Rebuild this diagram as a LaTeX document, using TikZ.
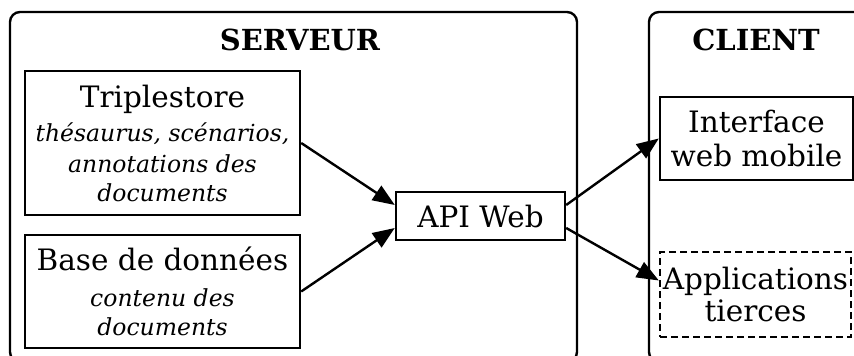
\documentclass[tikz,border=0pt]{standalone}
\usepackage{fontspec}
\setmainfont{DejaVu Serif}
\usepackage{tikz}
\usetikzlibrary{arrows.meta,positioning,calc}
\newcommand{\subtxt}[1]{{\fontsize{23.5}{30}\selectfont\itshape #1}}

\begin{document}
\begin{tikzpicture}[x=1pt, y=-1pt,
  box/.style={draw, line width=2.4pt, minimum width=#1, inner sep=0pt, align=center},
  cluster/.style={draw, line width=2.4pt, rounded corners=10pt},
  link/.style={line width=2.4pt, -{Triangle[length=22pt,width=17pt]}},
  font=\fontsize{29.5}{35}\selectfont]
\useasboundingbox (0,0) rectangle (854,356);
% ---------- server ----------
\draw[cluster] (10,12) rectangle (577,362);
\node[font=\fontsize{29}{33}\selectfont\bfseries] (srvtitle) at (300,40) {SERVEUR};
\node[box=275pt, minimum height=144pt] (trip) at (162.5,143)
  {Triplestore\\[-1pt] \subtxt{thésaurus, scénarios,}\\[-4pt] \subtxt{annotations des}\\[-6pt] \subtxt{documents}};
\node[box=275pt, minimum height=113pt] (base) at (162.5,291.5)
  {Base de données\\[1pt] \subtxt{contenu des}\\[-6pt] \subtxt{documents}};
\node[box=169pt, minimum height=48pt] (api) at (480.5,216) {API Web};
% ---------- client ----------
\draw[cluster] (649,12) rectangle (875,362);
\node[font=\fontsize{29}{33}\selectfont\bfseries] (clititle) at (756,40) {CLIENT};
\node[box=193pt, minimum height=83pt] (iface) at (756.5,138.5) {Interface\\[0pt] web mobile};
\node[box=191pt, minimum height=85pt, dash pattern=on 7pt off 4pt] (apps) at (755.5,294.5)
  {Applications\\[-3pt] tierces};
% ---------- links ----------
\draw[link] (trip.east) -- ([yshift=11pt]api.west);
\draw[link] (base.east) -- ([yshift=-12pt]api.west);
\draw[link] ([yshift=11pt]api.east) -- (iface.west);
\draw[link] ([yshift=-12pt]api.east) -- ([yshift=14pt]apps.west);
\end{tikzpicture}
\end{document}
